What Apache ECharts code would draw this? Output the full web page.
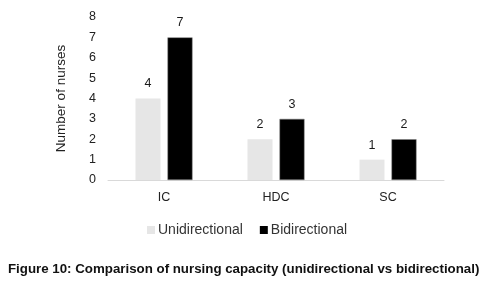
<!DOCTYPE html>
<html>
<head>
<meta charset="utf-8">
<script src="https://cdn.jsdelivr.net/npm/echarts@6/dist/echarts.min.js"></script>
<style>
  html, body { margin: 0; padding: 0; background: #fff; }
  #myChart { width: 501px; height: 284px; }
</style>
</head>
<body>
<div id="myChart"></div>
<script>
// categories and values
var categories = ['IC', 'HDC', 'SC'];
var uniValues = [4, 2, 1];
var biValues = [7, 3, 2];
var seriesNames = ['Unidirectional', 'Bidirectional'];
var yTicks = [0, 1, 2, 3, 4, 5, 6, 7, 8];

var chartInst = echarts.init(document.getElementById('myChart'));
var txtFont = 'Liberation Sans';
chartInst.setOption({
  animation: false,
  title: {
    text: 'Figure 10: Comparison of nursing capacity (unidirectional vs bidirectional)',
    left: 3,
    top: 258,
    textStyle: {
      fontFamily: txtFont,
      fontSize: 13.3,
      fontWeight: 'bold',
      color: '#111',
    },
  },
  legend: {
    data: seriesNames,
    left: 142,
    top: 218,
    itemWidth: 8,
    itemHeight: 8,
    itemGap: 17,
    icon: 'rect',
    itemStyle: { borderWidth: 0 },
    textStyle: {
      fontFamily: txtFont,
      fontSize: 14,
      color: '#333',
      padding: [0, 0, 0, -2],
    },
  },
  grid: {
    left: 108,
    right: 57,
    top: 17,
    bottom: 104,
  },
  xAxis: {
    type: 'category',
    data: categories,
    axisTick: { show: false },
    axisLine: { lineStyle: { color: '#d9d9d9', width: 1 } },
    axisLabel: {
      margin: 11,
      fontFamily: txtFont,
      fontSize: 12.5,
      color: '#222',
    },
  },
  yAxis: {
    type: 'value',
    min: yTicks[0],
    max: yTicks[yTicks.length - 1],
    interval: 1,
    name: 'Number of nurses',
    nameLocation: 'middle',
    nameGap: 40,
    nameTextStyle: {
      fontFamily: txtFont,
      fontSize: 13.5,
      color: '#222',
    },
    splitLine: { show: false },
    axisLine: { show: false },
    axisTick: { show: false },
    axisLabel: {
      margin: 12,
      fontFamily: txtFont,
      fontSize: 12.5,
      color: '#222',
    },
  },
  series: [
    {
      name: seriesNames[0],
      type: 'bar',
      data: uniValues,
      barWidth: 25,
      barGap: '28%',
      itemStyle: { color: '#e6e6e6' },
      label: {
        show: true,
        position: 'top',
        distance: 8,
        fontFamily: txtFont,
        fontSize: 12.5,
        color: '#1a1a1a',
      },
    },
    {
      name: seriesNames[1],
      type: 'bar',
      data: biValues,
      barWidth: 25,
      itemStyle: { color: '#000', borderColor: '#7f7f7f', borderWidth: 0.5 },
      label: {
        show: true,
        position: 'top',
        distance: 8,
        fontFamily: txtFont,
        fontSize: 12.5,
        color: '#1a1a1a',
      },
    },
  ],
});
</script>
</body>
</html>
